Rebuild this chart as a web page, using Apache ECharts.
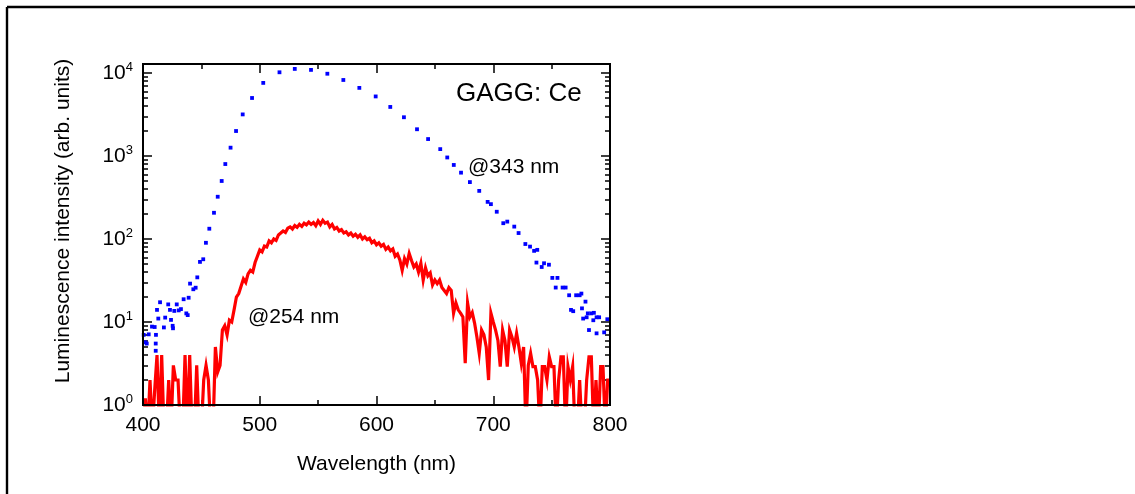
<!DOCTYPE html>
<html>
<head>
<meta charset="utf-8">
<script src="https://cdn.jsdelivr.net/npm/echarts@6/dist/echarts.min.js"></script>
<style>
  html, body { margin: 0; padding: 0; background: #ffffff; }
  #chart { width: 1135px; height: 494px; }
</style>
</head>
<body>
<div id="chart"></div>
<script>
// Emission spectrum excited at 254 nm, sampled every 2 nm from 400 nm
const red254Start = 400;
const red254Step = 2;
const red254 = [
  0.5, 1.2, 0.5, 2, 0.5, 1.5, 4, 0.5, 4, 0.5,          // 400-418
  0.5, 2, 0.5, 3, 2, 2, 0.5, 0.5, 4, 0.5,              // 420-438
  4, 0.5, 0.5, 3, 0.5, 0.5, 2, 3, 2, 0.5,              // 440-458
  0.5, 5, 2.5, 3, 8, 9, 7, 10.5, 10, 14,               // 460-478
  20, 22, 27, 33, 30, 38, 42, 40, 52, 62,              // 480-498
  74, 70, 82, 80, 95, 90, 100, 96, 112, 118,           // 500-518
  125, 120, 135, 140, 132, 145, 138, 150, 142, 155,    // 520-538
  148, 160, 150, 158, 145, 165, 150, 168, 155, 160,    // 540-558
  140, 150, 132, 138, 125, 130, 118, 122, 112, 118,    // 560-578
  108, 114, 105, 112, 100, 106, 98, 102, 90, 95,       // 580-598
  85, 90, 82, 86, 75, 80, 72, 76, 62, 66,              // 600-618
  56, 42, 58, 50, 67, 55, 46, 50, 40, 51,              // 620-638
  32, 45, 36, 39, 28, 32, 29, 32, 26, 24,              // 640-658
  22, 26, 24, 12.8, 17, 14, 12.8, 11.5, 3.2, 17,       // 660-678
  11.5, 13, 9.7, 6.6, 4.2, 8, 7, 5, 2, 12.8,           // 680-698
  10, 8, 6, 2.9, 8, 6, 2.9, 8, 6.6, 5,                 // 700-718
  7.3, 5, 3.2, 5, 0.5, 3, 4.2, 2.9, 2.9, 2,            // 720-738
  0.5, 2.9, 2.9, 2, 3.8, 2.9, 2.9, 0.5, 2, 3.8,        // 740-758
  3.8, 0.5, 2.9, 2, 2.9, 0.5, 0.5, 2, 0.5, 0.5,        // 760-778
  2, 3.8, 3.8, 0.5, 2, 0.5, 2.9, 2.9, 0.5, 2,          // 780-798
  2                                                    // 800
];

// Emission spectrum excited at 343 nm, plotted as dots: [wavelength, intensity]
const blue343 = [
  [400.6, 7.0], [402.0, 5.7], [403.2, 5.5], [404.9, 7.1], [407.7, 8.8], [410.0, 8.7], [411.1, 7.0], [410.9, 5.5], [410.9, 4.5], [412.0, 14],
  [413.1, 11], [414.6, 17.3], [417.9, 8.6], [419.0, 11.3], [421.6, 16.3], [423.1, 14], [424.0, 10.6], [425.4, 9.0], [425.7, 8.4], [426.8, 13.6],
  [428.9, 16.3], [430.6, 13.8], [432.5, 14.3], [434.8, 18.8], [437.1, 12.7], [438.3, 12.1], [439.1, 19.6], [440.3, 29], [443.1, 24.8], [445.1, 25.9],
  [446.5, 34.5], [448.8, 53], [451.6, 57], [453.9, 90], [456.8, 133], [460.8, 207], [464.0, 323], [467.4, 500], [470.5, 800], [475.0, 1260],
  [479.7, 2000], [485.4, 3170], [493.4, 5000], [503.0, 7600], [516.9, 10200], [530.0, 11200], [543.9, 10900], [557.9, 9800], [571.6, 8240], [585.3, 6620],
  [599.3, 5220], [611.8, 3900], [623.5, 2930], [634.7, 2100], [644.2, 1600], [654.6, 1210], [660.6, 960], [666.2, 780], [672.4, 630], [680.0, 485],
  [688.0, 380], [695.2, 280], [698.0, 263], [703.0, 213], [708.6, 155], [712.0, 162], [718.0, 141], [721.7, 118], [727.5, 87], [731.5, 81],
  [735.0, 72], [737.7, 74], [737.0, 52], [741.5, 46], [743.5, 51], [747.7, 49], [750.6, 34], [755.0, 34], [753.5, 26], [759.4, 26],
  [762.0, 26], [765.0, 21], [771.0, 21], [774.0, 21], [775.5, 22], [766.6, 14], [768.5, 13.5], [776.0, 14.6], [779.0, 17.6], [781.0, 12.7],
  [784.0, 12.7], [786.2, 12.9], [777.0, 11], [780.0, 11.4], [785.7, 10.5], [788.5, 11.4], [790.7, 11.4], [797.7, 10.8], [782.0, 8], [788.5, 7.3],
  [795.0, 7.5]
];

const xRange = [400, 800];
const xInterval = 100;
const yRange = [1, 10000];

const FONT = '"Liberation Sans", Arial, Helvetica, sans-serif';

const red254Data = red254.map((v, i) => [red254Start + i * red254Step, v]);

const chart = echarts.init(document.getElementById('chart'), null, { renderer: 'canvas' });

const tickStyle = { color: '#000', width: 1.5 };

function powerLabel(value) {
  const lg = Math.log10(value);
  const e = Math.round(lg);
  if (Math.abs(lg - e) > 1e-6) return '';
  return '{b|10}{s|' + e + '}';
}

const option = {
  backgroundColor: '#ffffff',
  animation: false,
  grid: { left: 143, right: 525, top: 73, bottom: 89, containLabel: false },
  xAxis: [
    {
      type: 'value', position: 'bottom',
      min: xRange[0], max: xRange[1], interval: xInterval,
      axisLine: { show: false },
      axisTick: { show: true, inside: true, length: 9, lineStyle: tickStyle },
      minorTick: { show: true, splitNumber: 2, length: 5, lineStyle: tickStyle },
      splitLine: { show: false },
      axisLabel: { color: '#000', fontSize: 21, fontFamily: FONT, margin: 10 },
      name: 'Wavelength (nm)', nameLocation: 'middle', nameGap: 49,
      nameTextStyle: { color: '#000', fontSize: 21, fontFamily: FONT }
    },
    {
      type: 'value', position: 'top', offset: 9,
      min: xRange[0], max: xRange[1], interval: xInterval,
      axisLine: { show: false },
      axisTick: { show: true, inside: true, length: 9, lineStyle: tickStyle },
      minorTick: { show: true, splitNumber: 2, length: 5, lineStyle: tickStyle },
      splitLine: { show: false },
      axisLabel: { show: false }
    }
  ],
  yAxis: [
    {
      type: 'log', logBase: 10, position: 'left',
      min: yRange[0], max: yRange[1],
      axisLine: { show: false },
      axisTick: { show: true, inside: true, length: 9, lineStyle: tickStyle },
      minorTick: { show: true, splitNumber: 9, length: 5, lineStyle: tickStyle },
      splitLine: { show: false },
      axisLabel: {
        margin: 10, formatter: powerLabel,
        rich: {
          b: { fontSize: 21, fontFamily: FONT, color: '#000' },
          s: { fontSize: 13, fontFamily: FONT, color: '#000', verticalAlign: 'top', padding: [0, 0, 12, 0] }
        }
      }
    },
    {
      type: 'log', logBase: 10, position: 'right',
      min: yRange[0], max: yRange[1],
      axisLine: { show: false },
      axisTick: { show: true, inside: true, length: 9, lineStyle: tickStyle },
      minorTick: { show: true, splitNumber: 9, length: 5, lineStyle: tickStyle },
      splitLine: { show: false },
      axisLabel: { show: false }
    }
  ],
  series: [
    {
      name: '@254 nm', type: 'line', data: red254Data,
      xAxisIndex: 0, yAxisIndex: 0,
      showSymbol: false, symbol: 'none',
      lineStyle: { color: '#ff0000', width: 3.2, join: 'miter' },
      clip: true, z: 3
    },
    {
      name: '@343 nm', type: 'scatter', data: blue343,
      xAxisIndex: 0, yAxisIndex: 0,
      symbol: 'rect', symbolSize: 3.8,
      itemStyle: { color: '#0000ff', opacity: 1 },
      clip: false, z: 4
    }
  ],
  graphic: [
    // outer page frame (top and left edges)
    { type: 'line', z: 100, shape: { x1: 7, y1: 7, x2: 1135, y2: 7 }, style: { stroke: '#000', lineWidth: 2.4 } },
    { type: 'line', z: 100, shape: { x1: 7, y1: 7, x2: 7, y2: 494 }, style: { stroke: '#000', lineWidth: 2.4 } },
    // plot box
    { type: 'rect', z: 100, shape: { x: 143, y: 64, width: 467, height: 341 }, style: { fill: null, stroke: '#000', lineWidth: 2 } },
    // y axis title
    { type: 'text', z: 100, x: 63, y: 221, rotation: Math.PI / 2,
      style: { text: 'Luminescence intensity (arb. units)', fill: '#000', fontSize: 21, fontFamily: FONT, align: 'center', verticalAlign: 'middle' } },
    // annotations
    { type: 'text', z: 100, x: 456, y: 94,
      style: { text: 'GAGG: Ce', fill: '#000', fontSize: 26, fontFamily: FONT, align: 'left', verticalAlign: 'middle' } },
    { type: 'text', z: 100, x: 468, y: 167,
      style: { text: '@343 nm', fill: '#000', fontSize: 21, fontFamily: FONT, align: 'left', verticalAlign: 'middle' } },
    { type: 'text', z: 100, x: 248, y: 317,
      style: { text: '@254 nm', fill: '#000', fontSize: 21, fontFamily: FONT, align: 'left', verticalAlign: 'middle' } }
  ]
};

chart.setOption(option);
</script>
</body>
</html>
